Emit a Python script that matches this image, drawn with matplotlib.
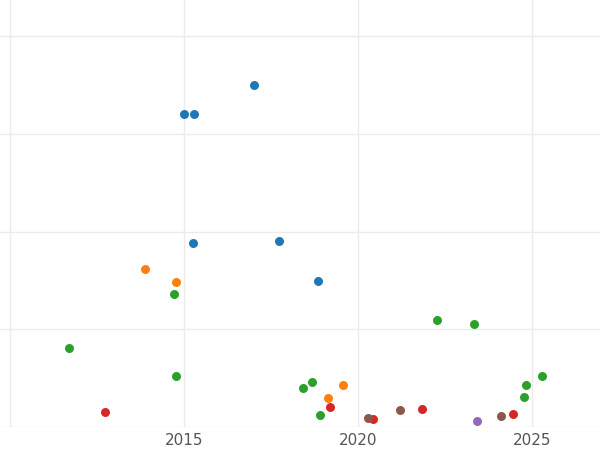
import matplotlib
matplotlib.use("Agg")
import matplotlib.pyplot as plt

blue_x = [2015.0, 2015.29, 2017.01, 2015.26, 2017.73, 2018.85]
blue_y = [3.20, 3.20, 3.50, 1.88, 1.90, 1.49]
orange_x = [2013.88, 2014.77, 2019.15, 2019.57]
orange_y = [1.62, 1.48, 0.30, 0.43]
green_x = [2011.70, 2014.71, 2014.77, 2018.42, 2018.68, 2018.91, 2022.27, 2023.33, 2024.83, 2024.77, 2025.29]
green_y = [0.81, 1.36, 0.52, 0.40, 0.46, 0.12, 1.09, 1.05, 0.43, 0.31, 0.52]
red_x = [2012.74, 2019.20, 2020.45, 2021.85, 2024.45]
red_y = [0.15, 0.20, 0.08, 0.18, 0.13]
brown_x = [2020.28, 2021.20, 2024.11]
brown_y = [0.09, 0.17, 0.11]
purple_x = [2023.42]
purple_y = [0.06]

series = [(blue_x, blue_y, "#1f77b4"), (orange_x, orange_y, "#ff7f0e"),
          (green_x, green_y, "#2ca02c"), (red_x, red_y, "#d62728"),
          (brown_x, brown_y, "#8c564b"), (purple_x, purple_y, "#9467bd")]

fig = plt.figure(figsize=(6, 4.5), dpi=100)
ax = fig.add_axes([0, 23/450, 1, 427/450])
for x, y, c in series:
    ax.scatter(x, y, s=42, color=c, zorder=3, linewidths=0)
ax.set_xlim(2009.72, 2026.96)
ax.set_ylim(0, 4.37)
ax.set_xticks([2010, 2015, 2020, 2025])
ax.set_xticklabels(["", "2015", "2020", "2025"])
ax.set_yticks([0, 1, 2, 3, 4])
ax.set_yticklabels([])
ax.tick_params(length=0, labelsize=11, labelcolor="#555555", pad=4)
ax.grid(True, color="#ebebeb", linewidth=1)
ax.set_axisbelow(True)
for s in ax.spines.values():
    s.set_visible(False)
fig.savefig("out.png")
